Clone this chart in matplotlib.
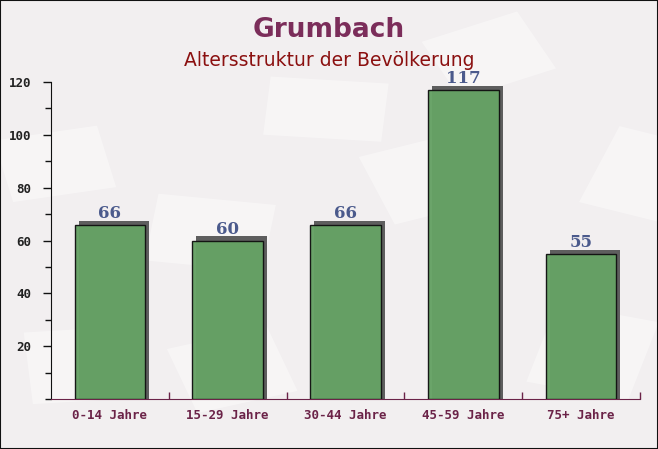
import matplotlib
matplotlib.use("Agg")
import matplotlib.pyplot as plt
import matplotlib.transforms as mtransforms
from matplotlib.ticker import MultipleLocator
import numpy as np

categories = ["0-14 Jahre", "15-29 Jahre", "30-44 Jahre", "45-59 Jahre", "75+ Jahre"]
values = [66, 60, 66, 117, 55]
title = "Grumbach"
subtitle = "Altersstruktur der Bevölkerung"

fig = plt.figure(figsize=(6.58, 4.49), dpi=100)
fig.patch.set_facecolor("#f2eff0")

# faint decorative envelope shapes in the background
bg = fig.add_axes([0, 0, 1, 1], zorder=-5)
bg.set_axis_off()
bg.set_xlim(0, 1)
bg.set_ylim(0, 1)
deco = [(0.02, 0.55, 0.16, 0.14, 12), (0.22, 0.42, 0.18, 0.15, -8), (0.60, 0.50, 0.17, 0.16, 20),
        (0.80, 0.15, 0.16, 0.18, -15), (0.05, 0.10, 0.15, 0.16, 5), (0.40, 0.70, 0.18, 0.13, -5),
        (0.70, 0.78, 0.16, 0.14, 25), (0.30, 0.08, 0.16, 0.15, 18), (0.88, 0.55, 0.14, 0.18, -20)]
for (dx, dy, dw, dh, ang) in deco:
    bg.add_patch(plt.Rectangle((dx, dy), dw, dh, angle=ang, facecolor="white",
                               edgecolor="none", alpha=0.4))

ax = fig.add_axes([51/658, 50/449, 589/658, 317/449], zorder=1)
ax.set_facecolor("none")

x = np.arange(len(categories))
shadow_tr = mtransforms.offset_copy(ax.transData, fig=fig, x=4, y=4, units="dots")
ax.bar(x, [v + 1.5 for v in values], bottom=-1.5, width=0.6, color="#5e5e5e",
       transform=shadow_tr, zorder=2)
ax.bar(x, values, width=0.6, color="#66a265", alpha=0.97, edgecolor="#111111", linewidth=1, zorder=3)

label_tr = mtransforms.offset_copy(ax.transData, fig=fig, x=0, y=7, units="dots")
for xi, v in zip(x, values):
    ax.text(xi, v, str(v), ha="center", va="baseline", fontsize=12, fontweight="bold",
            family="DejaVu Serif", color="#4b5a8c", zorder=4, transform=label_tr)

ax.set_xlim(-0.5, len(categories) - 0.5)
ax.set_ylim(0, 120)

ax.yaxis.set_major_locator(MultipleLocator(20))
ax.yaxis.set_minor_locator(MultipleLocator(10))
ax.set_yticks([20, 40, 60, 80, 100, 120])
ax.tick_params(axis="y", which="major", length=6, width=1, color="#111111", labelsize=9, pad=8)
ax.tick_params(axis="y", which="minor", length=4, width=1, color="#111111")
for lbl in ax.get_yticklabels():
    lbl.set_family("DejaVu Sans Mono")
    lbl.set_fontweight("bold")
    lbl.set_color("#222222")

ax.set_xticks(x)
ax.set_xticklabels(categories)
ax.tick_params(axis="x", which="major", length=0, labelsize=9, pad=7, labelcolor="#6b2348")
for lbl in ax.get_xticklabels():
    lbl.set_family("DejaVu Sans Mono")
    lbl.set_fontweight("bold")
ax.set_xticks(np.arange(len(categories)) + 0.5, minor=True)
ax.tick_params(axis="x", which="minor", length=5, direction="in", color="#6b2348", width=1)

for s in ["top", "right"]:
    ax.spines[s].set_visible(False)
ax.spines["left"].set_color("#111111")
ax.spines["bottom"].set_color("#6b2348")

fig.text(0.5, 1 - 30/449, title, ha="center", va="center", fontsize=19, fontweight="bold",
         color="#7b2d5a")
fig.text(0.5, 1 - 61/449, subtitle, ha="center", va="center", fontsize=13.5, color="#8b1010")

border = plt.Rectangle((0, 0), 1, 1, transform=fig.transFigure, fill=False,
                       edgecolor="#111111", linewidth=1.5, zorder=10)
fig.patches.append(border)

fig.savefig("out.png", dpi=100, facecolor=fig.get_facecolor())
